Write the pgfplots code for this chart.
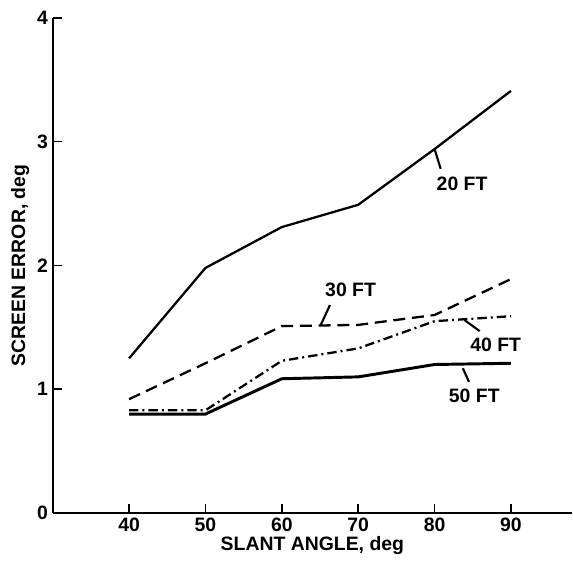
\documentclass[border=0pt]{standalone}
\usepackage{fontspec}
\setmainfont{Liberation Sans}
\usepackage{pgfplots}
\pgfplotsset{compat=1.18}

\begin{document}
\begin{tikzpicture}
\begin{axis}[
    scale only axis,
    width=388pt, height=370pt,
    xmin=30, xmax=98,
    ymin=0, ymax=4,
    axis lines=left,
    axis line style={-, line width=1.4pt},
    xtick={40,50,60,70,80,90},
    ytick={0,1,2,3,4},
    tick align=inside,
    major tick length=7pt,
    tick style={black, line width=1.2pt},
    every tick label/.append style={font=\fontsize{14.5}{16}\selectfont\bfseries},
    /pgf/number format/assume math mode=true,
    xlabel={SLANT ANGLE, deg},
    ylabel={SCREEN ERROR, deg},
    label style={font=\fontsize{14.5}{16}\selectfont\bfseries},
    xlabel style={yshift=3pt},
    ylabel style={yshift=-1pt},
    clip=false,
]
% 20 FT
\addplot[black, line width=1.7pt] coordinates {
    (40,1.25) (50,1.98) (60,2.31) (70,2.49) (80,2.94) (90,3.41)
};
% 30 FT
\addplot[black, line width=1.7pt, dash pattern=on 9pt off 5pt] coordinates {
    (40,0.92) (50,1.21) (60,1.51) (70,1.52) (80,1.60) (90,1.89)
};
% 40 FT
\addplot[black, line width=1.7pt, dash pattern=on 7pt off 3pt on 1.5pt off 3pt] coordinates {
    (40,0.83) (50,0.83) (60,1.23) (70,1.33) (80,1.55) (90,1.59)
};
% 50 FT
\addplot[black, line width=2.2pt] coordinates {
    (40,0.80) (50,0.80) (60,1.085) (70,1.10) (80,1.20) (90,1.21)
};
% labels and leaders
\draw[line width=1.6pt] (axis cs:80.0,2.94) -- (axis cs:80.8,2.78);
\node[font=\fontsize{14.5}{16}\selectfont\bfseries] at (axis cs:83.6,2.66) {20 FT};
\draw[line width=1.6pt] (axis cs:66.3,1.68) -- (axis cs:65.1,1.52);
\node[font=\fontsize{14.5}{16}\selectfont\bfseries] at (axis cs:69.0,1.80) {30 FT};
\draw[line width=1.6pt] (axis cs:83.9,1.56) -- (axis cs:85.9,1.47);
\node[font=\fontsize{14.5}{16}\selectfont\bfseries] at (axis cs:88.0,1.36) {40 FT};
\draw[line width=1.6pt] (axis cs:83.7,1.17) -- (axis cs:84.5,1.06);
\node[font=\fontsize{14.5}{16}\selectfont\bfseries] at (axis cs:85.2,0.95) {50 FT};
\end{axis}
% margins as in the reference
\path ([xshift=-5pt,yshift=5pt]current bounding box.north west);
\path ([yshift=-6pt]current bounding box.south);
\end{tikzpicture}
\end{document}
